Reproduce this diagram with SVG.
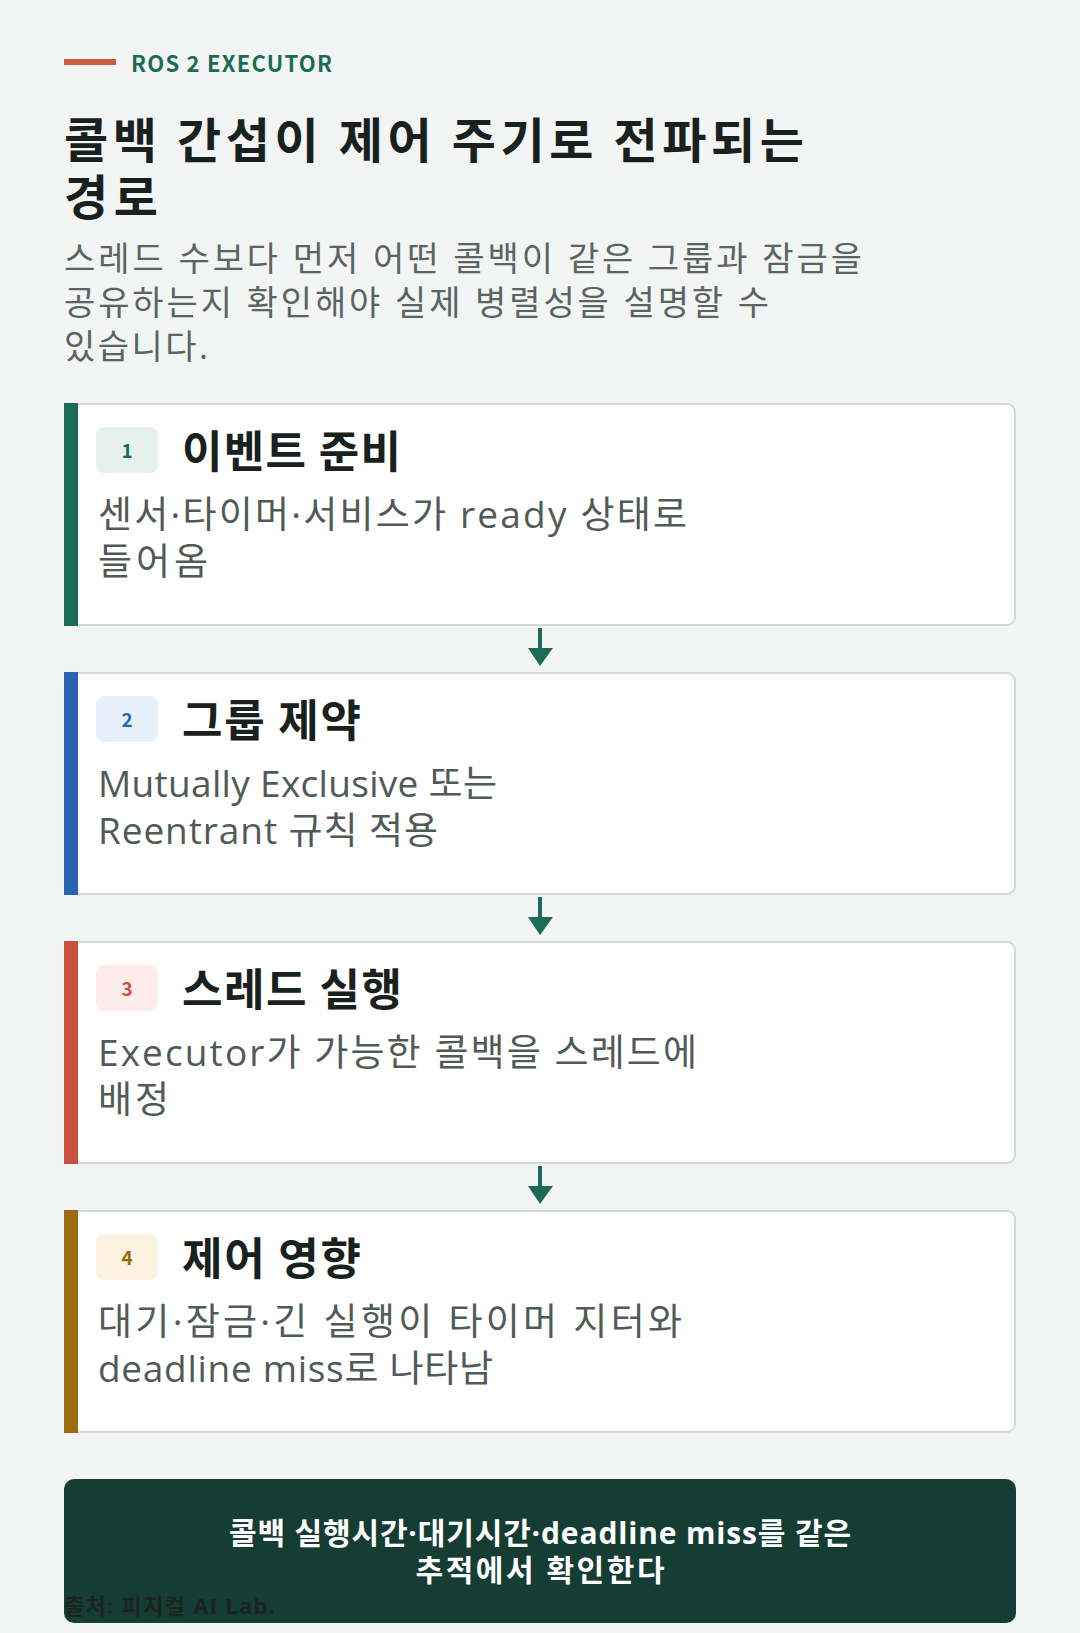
<svg xmlns="http://www.w3.org/2000/svg" width="1080" height="1633" viewBox="0 0 1080 1633">
<style>
text{font-family:"Open Sans","Noto Sans CJK KR",sans-serif}
.eyebrow{font-family:"Noto Sans CJK KR",sans-serif;font-size:22px;font-weight:700;fill:#1a6b57}
.title{font-family:"Noto Sans CJK KR",sans-serif;font-size:48px;font-weight:700;fill:#18211e}
.sub{font-size:34px;font-weight:400;fill:#5b6461}
.card{fill:#ffffff;stroke:#d2d9d6;stroke-width:2}
.ctitle{font-family:"Noto Sans CJK KR",sans-serif;font-size:44px;font-weight:700;fill:#18211e}
.body{font-size:37px;font-weight:400;fill:#505a56}
.num{font-family:"Noto Sans CJK KR",sans-serif;font-size:19px;font-weight:700;text-anchor:middle}
.conn{stroke:#1a6b57;stroke-width:4}
.head{fill:#1a6b57}
.foot{font-size:30px;font-weight:700;fill:#ffffff;text-anchor:middle}
.src{font-size:22px;font-weight:700;fill:#1c2420}
</style>
<rect x="0" y="0" width="1080" height="1633" fill="#f2f5f4"/>
<g id="header">
<rect x="64" y="59" width="52" height="6" fill="#cc5a45"/>
<text class="eyebrow" x="131" y="72" textLength="201" lengthAdjust="spacing">ROS 2 EXECUTOR</text>
<text class="title" x="64" y="158" textLength="740" lengthAdjust="spacing">콜백 간섭이 제어 주기로 전파되는</text>
<text class="title" x="64" y="215" textLength="94" lengthAdjust="spacing">경로</text>
<text class="sub" x="64" y="271" textLength="798" lengthAdjust="spacing">스레드 수보다 먼저 어떤 콜백이 같은 그룹과 잠금을</text>
<text class="sub" x="64" y="315" textLength="705" lengthAdjust="spacing">공유하는지 확인해야 실제 병렬성을 설명할 수</text>
<text class="sub" x="64" y="359" textLength="144" lengthAdjust="spacing">있습니다.</text>
</g>
<g id="connectors">
<line class="conn" x1="540" y1="628" x2="540" y2="652"/>
<polygon class="head" points="528,648 553,648 540,666"/>
<line class="conn" x1="540" y1="897" x2="540" y2="921"/>
<polygon class="head" points="528,917 553,917 540,935"/>
<line class="conn" x1="540" y1="1166" x2="540" y2="1190"/>
<polygon class="head" points="528,1186 553,1186 540,1204"/>
</g>
<g id="step1">
<path class="card" d="M70,404 H1007 A8,8 0 0 1 1015,412 V617 A8,8 0 0 1 1007,625 H70 Z"/>
<rect x="64" y="403" width="14" height="223" fill="#1a6b57"/>
<rect x="96" y="427" width="62" height="46" rx="8" fill="#e6f1ed"/>
<text class="num" x="127" y="458" fill="#1a6b57">1</text>
<text class="ctitle" x="182" y="468" textLength="219" lengthAdjust="spacing">이벤트 준비</text>
<text class="body" x="98" y="528" textLength="589" lengthAdjust="spacing">센서·타이머·서비스가 ready 상태로</text>
<text class="body" x="98" y="575" textLength="110" lengthAdjust="spacing">들어옴</text>
</g>
<g id="step2">
<path class="card" d="M70,673 H1007 A8,8 0 0 1 1015,681 V886 A8,8 0 0 1 1007,894 H70 Z"/>
<rect x="64" y="672" width="14" height="223" fill="#2a64b0"/>
<rect x="96" y="696" width="62" height="46" rx="8" fill="#e8f0fa"/>
<text class="num" x="127" y="727" fill="#2a64b0">2</text>
<text class="ctitle" x="182" y="737" textLength="179" lengthAdjust="spacing">그룹 제약</text>
<text class="body" x="98" y="797" textLength="399" lengthAdjust="spacing">Mutually Exclusive 또는</text>
<text class="body" x="98" y="844" textLength="340" lengthAdjust="spacing">Reentrant 규칙 적용</text>
</g>
<g id="step3">
<path class="card" d="M70,942 H1007 A8,8 0 0 1 1015,950 V1155 A8,8 0 0 1 1007,1163 H70 Z"/>
<rect x="64" y="941" width="14" height="223" fill="#c8503f"/>
<rect x="96" y="965" width="62" height="46" rx="8" fill="#fdecea"/>
<text class="num" x="127" y="996" fill="#c8503f">3</text>
<text class="ctitle" x="182" y="1006" textLength="220" lengthAdjust="spacing">스레드 실행</text>
<text class="body" x="98" y="1066" textLength="599" lengthAdjust="spacing">Executor가 가능한 콜백을 스레드에</text>
<text class="body" x="98" y="1113" textLength="71" lengthAdjust="spacing">배정</text>
</g>
<g id="step4">
<path class="card" d="M70,1211 H1007 A8,8 0 0 1 1015,1219 V1424 A8,8 0 0 1 1007,1432 H70 Z"/>
<rect x="64" y="1210" width="14" height="223" fill="#9c6a10"/>
<rect x="96" y="1234" width="62" height="46" rx="8" fill="#fbf2df"/>
<text class="num" x="127" y="1265" fill="#9c6a10">4</text>
<text class="ctitle" x="182" y="1275" textLength="179" lengthAdjust="spacing">제어 영향</text>
<text class="body" x="98" y="1335" textLength="584" lengthAdjust="spacing">대기·잠금·긴 실행이 타이머 지터와</text>
<text class="body" x="98" y="1382" textLength="395" lengthAdjust="spacing">deadline miss로 나타남</text>
</g>
<g id="summary">
<rect x="64" y="1479" width="952" height="144" rx="10" fill="#163d33"/>
<text class="foot" x="540" y="1544" textLength="622" lengthAdjust="spacing">콜백 실행시간·대기시간·deadline miss를 같은</text>
<text class="foot" x="540" y="1581" textLength="249" lengthAdjust="spacing">추적에서 확인한다</text>
<text class="src" x="64" y="1614" textLength="211" lengthAdjust="spacing">출처: 피지컬 AI Lab.</text>
</g>
</svg>
